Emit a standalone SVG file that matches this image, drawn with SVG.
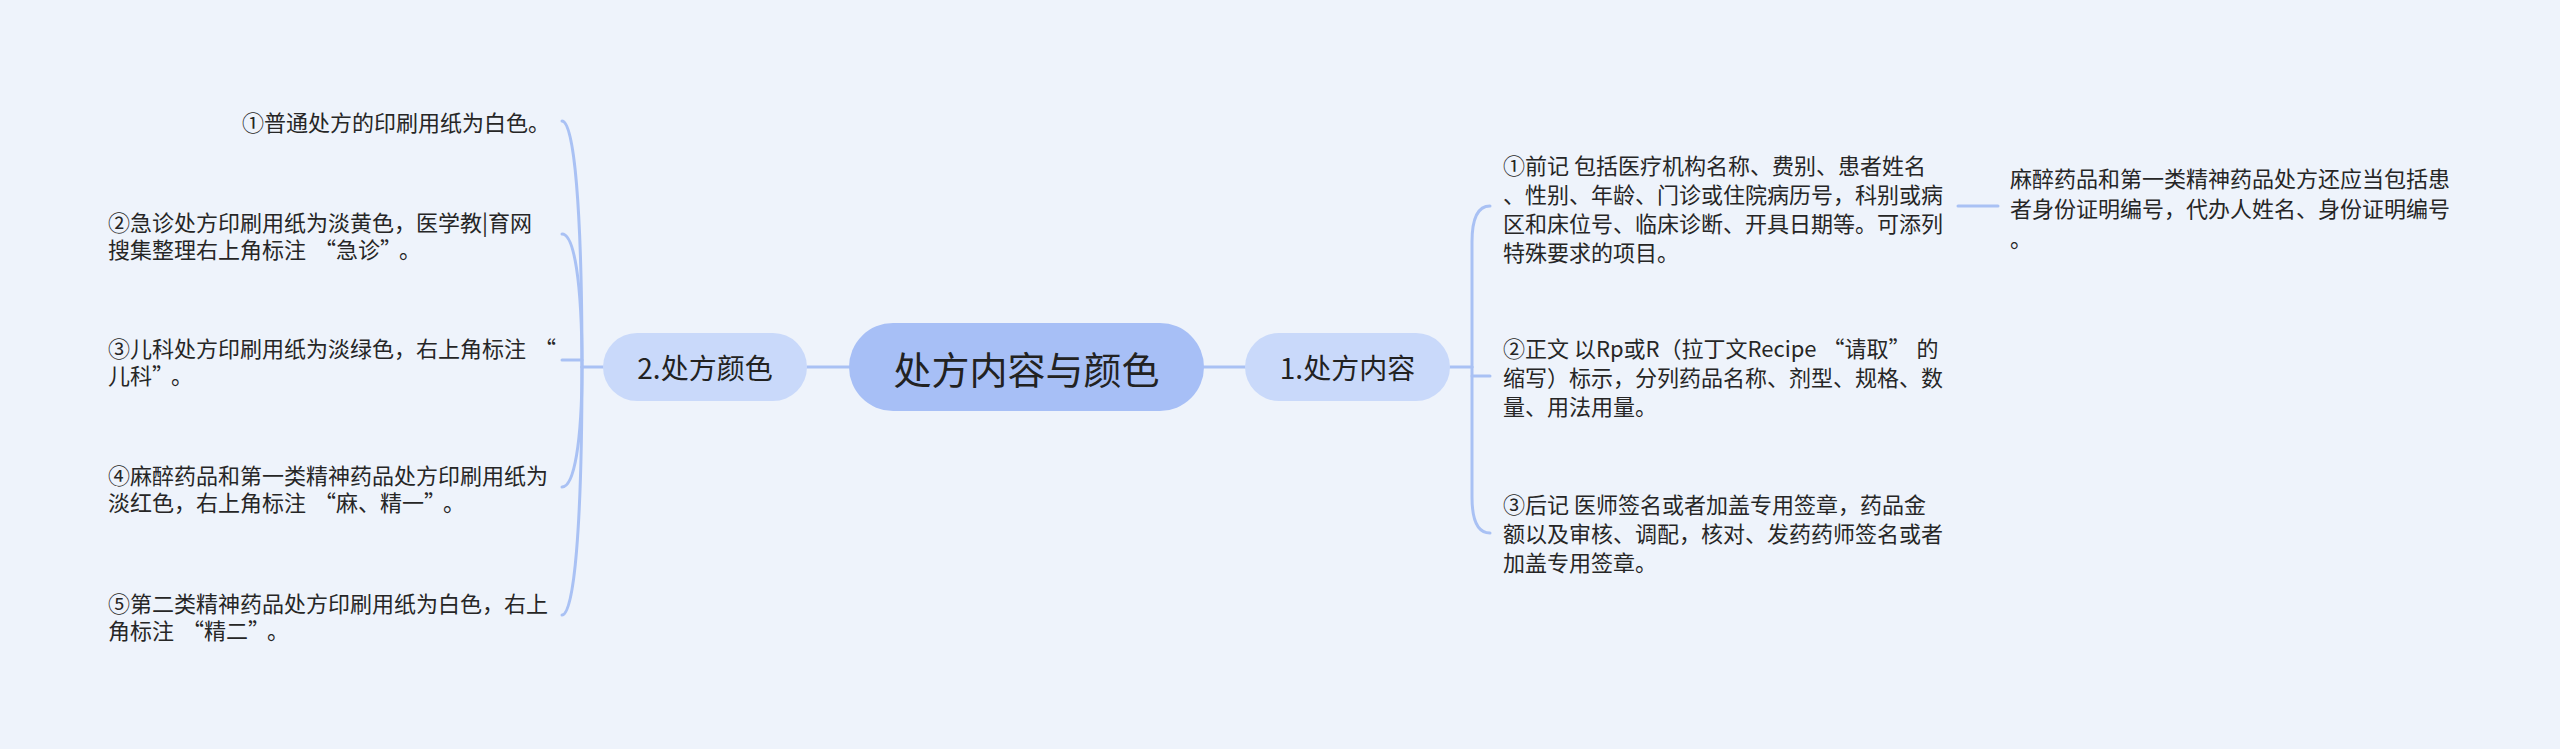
<svg xmlns="http://www.w3.org/2000/svg" width="2560" height="749" viewBox="0 0 2560 749">
<style>
.t{font-family:"Noto Sans CJK SC","Noto Sans",sans-serif;font-size:22px;fill:#262626;dominant-baseline:central}
.c{fill:none;stroke:#a9c1f4;stroke-width:3;stroke-linecap:round}
.n1{fill:#c9d9fa}
.ctr{fill:#a7bff6}
.lbl{font-family:"Noto Sans CJK SC","Noto Sans",sans-serif;fill:#222;dominant-baseline:central;text-anchor:middle}
</style>
<rect width="2560" height="749" fill="#eef3fb"/>
<g id="connectors">
<path class="c" d="M807 367H849M1204 367H1245M1450 367H1472"/>
<path class="c" d="M603 367H582"/>
<path class="c" d="M562 121C574 121 582 207 582 367"/>
<path class="c" d="M562 234C574 234 582 281 582 367"/>
<path class="c" d="M562 360H582"/>
<path class="c" d="M562 487C574 487 582 443 582 367"/>
<path class="c" d="M562 615C574 615 582 528 582 367"/>
<path class="c" d="M1490 206Q1472 206 1472 242L1472 367"/>
<path class="c" d="M1472 376H1490"/>
<path class="c" d="M1490 533Q1472 533 1472 497L1472 367"/>
<path class="c" d="M1958 206H1998"/>
</g>
<g id="center">
<rect class="ctr" x="849" y="323" width="355" height="88" rx="44"/>
<text class="lbl" x="1026.5" y="367" font-size="38">处方内容与颜色</text>
</g>
<g id="node1">
<rect class="n1" x="1245" y="333" width="205" height="68" rx="34"/>
<text class="lbl" x="1347.5" y="367" font-size="28">1.处方内容</text>
</g>
<g id="node2">
<rect class="n1" x="603" y="333" width="204" height="68" rx="34"/>
<text class="lbl" x="705" y="367" font-size="28">2.处方颜色</text>
</g>
<g id="c2-1"><text class="t" x="242" y="121">①普通处方的印刷用纸为白色。</text></g>
<g id="c2-2"><text class="t" x="108" y="220.5">②急诊处方印刷用纸为淡黄色，医学教|育网</text><text class="t" x="108" y="247.5">搜集整理右上角标注<tspan dx="8">“</tspan>急诊”<tspan dx="8">。</tspan></text></g>
<g id="c2-3"><text class="t" x="108" y="346.5">③儿科处方印刷用纸为淡绿色，右上角标注<tspan dx="8">“</tspan></text><text class="t" x="108" y="373.5">儿科”<tspan dx="8">。</tspan></text></g>
<g id="c2-4"><text class="t" x="108" y="473.5">④麻醉药品和第一类精神药品处方印刷用纸为</text><text class="t" x="108" y="500.5">淡红色，右上角标注<tspan dx="8">“</tspan>麻、精一”<tspan dx="8">。</tspan></text></g>
<g id="c2-5"><text class="t" x="108" y="601.5">⑤第二类精神药品处方印刷用纸为白色，右上</text><text class="t" x="108" y="628.5">角标注<tspan dx="8">“</tspan>精二”<tspan dx="8">。</tspan></text></g>
<g id="c1-1"><text class="t" x="1503" y="163.5">①前记 包括医疗机构名称、费别、患者姓名</text><text class="t" x="1503" y="192.5">、性别、年龄、门诊或住院病历号，科别或病</text><text class="t" x="1503" y="221.5">区和床位号、临床诊断、开具日期等。可添列</text><text class="t" x="1503" y="250.5">特殊要求的项目。</text></g>
<g id="c1-2"><text class="t" x="1503" y="347">②正文 以Rp或R（拉丁文Recipe<tspan dx="6">“</tspan>请取”<tspan dx="6">的</tspan></text><text class="t" x="1503" y="376">缩写）标示，分列药品名称、剂型、规格、数</text><text class="t" x="1503" y="405">量、用法用量。</text></g>
<g id="c1-3"><text class="t" x="1503" y="503">③后记 医师签名或者加盖专用签章，药品金</text><text class="t" x="1503" y="532">额以及审核、调配，核对、发药药师签名或者</text><text class="t" x="1503" y="561">加盖专用签章。</text></g>
<g id="c1-1-1"><text class="t" x="2010" y="177">麻醉药品和第一类精神药品处方还应当包括患</text><text class="t" x="2010" y="207">者身份证明编号，代办人姓名、身份证明编号</text><text class="t" x="2010" y="237">。</text></g>
</svg>
